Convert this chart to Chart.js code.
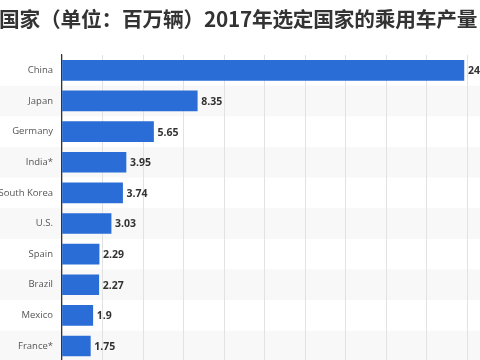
<!DOCTYPE html>
<html><head><meta charset="utf-8">
<script src="https://cdn.jsdelivr.net/npm/chart.js@4"></script>
<style>
html,body{margin:0;padding:0;background:#fff;width:480px;height:360px;overflow:hidden;position:relative}
#title{position:absolute;left:-1px;top:3px;font:bold 20.7px "Noto Sans CJK SC",sans-serif;color:#333;white-space:nowrap;z-index:2;letter-spacing:-0.2px}
#wrap{position:absolute;left:0;top:0;width:548px;height:376px}
</style></head>
<body>
<div id="title">国家（单位：百万辆）2017年选定国家的乘用车产量</div>
<div id="wrap"><canvas id="c" width="548" height="376"></canvas></div>
<script>
const categories = ["China","Japan","Germany","India*","South Korea","U.S.","Spain","Brazil","Mexico","France*"];
const production = [24.81, 8.35, 5.65, 3.95, 3.74, 3.03, 2.29, 2.27, 1.9, 1.75];
const valueLabels = ["24.81","8.35","5.65","3.95","3.74","3.03","2.29","2.27","1.9","1.75"];
const axisMax = 30;
const axisStep = 2.5;

const stripes = {
  id: 'stripes',
  beforeDraw(chart) {
    const {ctx, scales:{y}} = chart;
    const half = (y.getPixelForValue(1) - y.getPixelForValue(0)) / 2;
    ctx.save();
    ctx.fillStyle = '#f8f8f8';
    categories.forEach((c, i) => {
      if (i % 2 === 1) {
        const cy = y.getPixelForValue(i);
        ctx.fillRect(0, cy - half, chart.width, half * 2);
      }
    });
    ctx.restore();
  }
};
const valueText = {
  id: 'valueText',
  afterDatasetsDraw(chart) {
    const {ctx} = chart;
    const meta = chart.getDatasetMeta(0);
    ctx.save();
    ctx.font = 'bold 10.5px "Open Sans", sans-serif';
    ctx.fillStyle = '#333';
    ctx.textBaseline = 'middle';
    ctx.textAlign = 'left';
    meta.data.forEach((bar, i) => {
      ctx.fillText(valueLabels[i], bar.x + 4, bar.y + 1);
    });
    ctx.restore();
  }
};

new Chart(document.getElementById('c'), {
  type: 'bar',
  data: {
    labels: categories,
    datasets: [{
      data: production,
      backgroundColor: '#2a6dd6',
      barThickness: 20,
      borderWidth: 0
    }]
  },
  options: {
    indexAxis: 'y',
    responsive: false,
    animation: false,
    devicePixelRatio: 1,
    layout: { padding: { top: 55, left: 0, right: 0, bottom: 0 } },
    plugins: { legend: { display: false }, tooltip: { enabled: false } },
    scales: {
      x: {
        min: 0, max: axisMax,
        afterFit(scale) { scale.height = 0; },
        ticks: { display: false, stepSize: axisStep },
        grid: { color: '#e2e2e2', lineWidth: 1, drawTicks: false },
        border: { display: false }
      },
      y: {
        afterFit(scale) { scale.width = 62; },
        ticks: { color: '#555', font: { family: '"Open Sans", sans-serif', size: 9.5 }, padding: 9 },
        grid: { display: false, drawTicks: false },
        border: { display: true, color: '#333', width: 1.2 }
      }
    }
  },
  plugins: [stripes, valueText]
});
</script>
</body></html>
